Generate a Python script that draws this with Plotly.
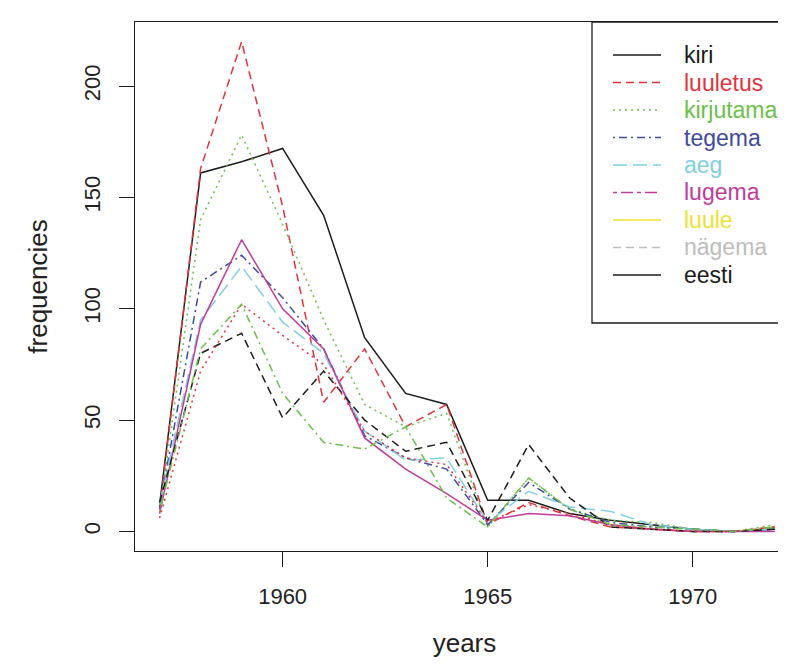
import plotly.graph_objects as go

years = list(range(1957, 1973))
kiri      = [12, 161, 166, 172, 142, 87, 62, 57, 14, 14, 8, 5, 3, 1, 0, 1]
luuletus  = [10, 163, 220, 146, 58, 82, 47, 57, 3, 13, 7, 2, 1, 0, 0, 2]
kirjutama = [9, 140, 178, 138, 95, 57, 47, 53, 2, 24, 10, 5, 4, 1, 0, 3]
tegema    = [11, 112, 124, 105, 82, 43, 33, 28, 3, 22, 10, 4, 2, 1, 0, 1]
aeg       = [12, 95, 119, 94, 80, 45, 32, 33, 4, 18, 11, 9, 3, 1, 0, 1]
lugema    = [8, 93, 131, 100, 82, 42, 28, 17, 5, 8, 7, 3, 1, 0, 0, 0]
luule     = [13, 80, 89, 51, 72, 50, 36, 40, 5, 39, 15, 2, 1, 0, 0, 1]
nagema    = [6, 72, 102, 88, 75, 45, 33, 30, 4, 12, 8, 3, 1, 0, 0, 2]
eesti     = [9, 82, 102, 62, 40, 37, 47, 15, 2, 24, 10, 3, 2, 1, 0, 2]

names = ["kiri", "luuletus", "kirjutama", "tegema", "aeg", "lugema", "luule", "nägema", "eesti"]
series = [kiri, luuletus, kirjutama, tegema, aeg, lugema, luule, nagema, eesti]

BLACK = "#1c1c1c"; RED = "#e3333a"; GREEN = "#6cc04a"; BLUE = "#3f4aa0"
CYAN = "#80cfe2"; MAGENTA = "#c03c9a"; YELLOW = "#ece234"; GRAY = "#bdbdbd"

DASH = "8px,5px"; DOT = "2px,4px"; DOTDASH = "2px,4px,8px,4px"; LONGDASH = "14px,6px"
TWODASH = "4px,4px,12px,4px"

# matplot style: colours cycle 1:6, line types cycle 1:5
plot_colors = [BLACK, RED, GREEN, BLUE, CYAN, MAGENTA, BLACK, RED, GREEN]
plot_dashes = ["solid", DASH, DOT, DOTDASH, LONGDASH, "solid", DASH, DOT, DOTDASH]
# legend as drawn in the original
leg_colors = [BLACK, RED, GREEN, BLUE, CYAN, MAGENTA, YELLOW, GRAY, BLACK]
leg_dashes = ["solid", DASH, DOT, DOTDASH, LONGDASH, TWODASH, "solid", DASH, "solid"]

fig = go.Figure()
for n, s, c, d in zip(names, series, plot_colors, plot_dashes):
    fig.add_trace(go.Scatter(x=years, y=s, mode="lines", name=n,
                             line=dict(color=c, dash=d, width=1.5), showlegend=False))

W, H = 786, 664
L, R, T, B = 127, 0, 14, 121
pw, ph = W - L - R, H - T - B

def px(xp):
    return (xp - L) / pw

def py(yp):
    return (H - B - yp) / ph

shapes = []
annotations = []
# legend box
shapes.append(dict(type="rect", xref="paper", yref="paper",
                   x0=px(584), x1=px(800), y0=py(315), y1=py(14),
                   line=dict(color=BLACK, width=1.3), fillcolor="white", layer="above"))
row0, step = 47, 27.5
for i, (n, c, d) in enumerate(zip(names, leg_colors, leg_dashes)):
    yy = row0 + i * step
    shapes.append(dict(type="line", xref="paper", yref="paper",
                       x0=px(605), x1=px(653), y0=py(yy), y1=py(yy),
                       line=dict(color=c, dash=d, width=1.5), layer="above"))
    annotations.append(dict(text=n, xref="paper", yref="paper", x=px(674), y=py(yy),
                            xanchor="left", yanchor="middle", showarrow=False,
                            font=dict(color=c, size=23, family="Liberation Sans, Arial")))

fig.update_layout(
    width=W, height=H,
    margin=dict(l=L, r=R, t=T, b=B, pad=0),
    paper_bgcolor="white", plot_bgcolor="white",
    font=dict(family="Liberation Sans, Arial", size=22, color="#222222"),
    shapes=shapes, annotations=annotations,
    xaxis=dict(range=[1956.4, 1972.47], tickvals=[1960, 1965, 1970],
               ticks="outside", ticklen=15, tickwidth=1.3, tickcolor=BLACK,
               ticklabelstandoff=10, automargin=False,
               showline=True, linecolor=BLACK, linewidth=1.3, mirror=True,
               showgrid=False, zeroline=False,
               title=dict(text="years", standoff=26)),
    yaxis=dict(range=[-8.8, 228.8], tickvals=[0, 50, 100, 150, 200],
               ticks="outside", ticklen=15, tickwidth=1.3, tickcolor=BLACK,
               tickangle=-90, ticklabelstandoff=10, automargin=False,
               showline=True, linecolor=BLACK, linewidth=1.3, mirror=False,
               showgrid=False, zeroline=False,
               title=dict(text="frequencies", standoff=24)),
)

fig.write_html("out.html")
